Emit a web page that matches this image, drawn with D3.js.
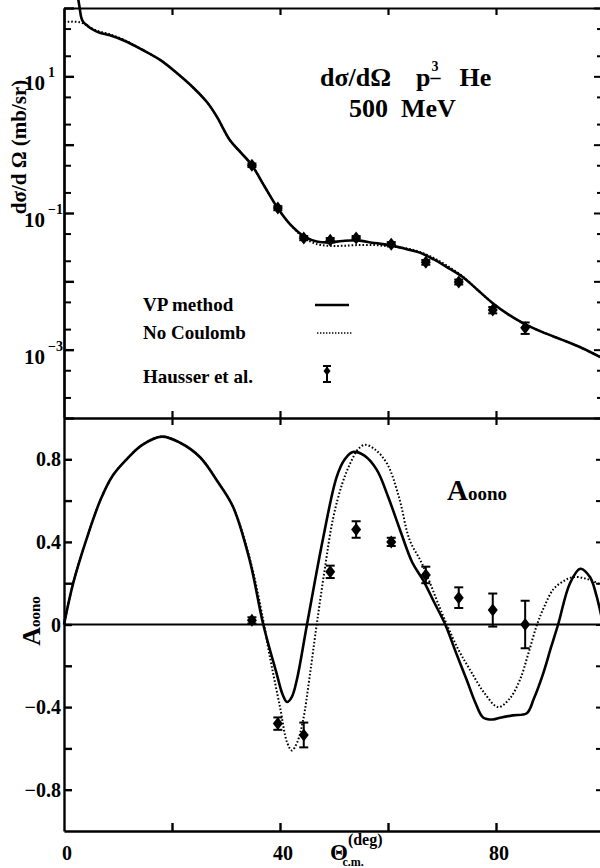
<!DOCTYPE html>
<html>
<head>
<meta charset="utf-8">
<script src="https://cdn.jsdelivr.net/npm/d3@7"></script>
<style>
  body { margin: 0; background: #fff; }
  svg { display: block; }
  text { font-family: "Liberation Serif", "Times New Roman", serif; font-weight: bold; fill: #000; }
</style>
</head>
<body>
<svg id="chart" width="600" height="868"></svg>
<script>
// Cross section, VP method (theta deg, mb/sr)
const csVpTheta = [2.6, 2.9, 3.2, 3.6, 4.2, 5.0, 6.5, 8.5, 11.5, 14.5, 17.8, 21, 24, 26.5, 28.3, 30.7, 32.8, 34.8, 37.2, 39.6, 41.8, 44.6, 47, 49.3, 51.5, 54.3, 57.5, 60.4, 63.5, 65.9, 68.5, 70.9, 73.9, 76.5, 79.4, 82.2, 85, 88.5, 92.4, 96, 99.6];
const csVpValue = [141, 100, 72.4, 61.7, 56.2, 50.1, 43.7, 39.8, 32.4, 24.5, 17.4, 11.0, 6.76, 4.17, 2.57, 1.17, 0.759, 0.501, 0.240, 0.117, 0.0692, 0.0447, 0.0380, 0.0372, 0.0389, 0.0398, 0.0363, 0.0339, 0.0295, 0.0263, 0.0209, 0.0162, 0.0115, 0.00759, 0.00479, 0.00331, 0.00245, 0.00182, 0.00138, 0.00105, 0.000759];

// Cross section, no Coulomb
const csNcTheta = [0, 1, 2, 3, 3.7, 4.5, 6, 8.5, 11.5, 14.5, 17.8, 21, 24, 26.5, 28.3, 30.7, 32.8, 34.8, 37.2, 39.6, 41.8, 44.6, 47, 49.3, 51.5, 54.3, 57.5, 60.4, 63.5, 65.9, 68.5, 70.9, 73.9, 76.5, 79.4, 82.2, 85, 88.5, 92.4, 96, 99.6];
const csNcValue = [63.1, 63.1, 63.1, 61.7, 58.9, 53.7, 46.8, 41.2, 33.1, 24.5, 17.4, 11.0, 6.76, 4.17, 2.57, 1.17, 0.759, 0.501, 0.240, 0.117, 0.0692, 0.0427, 0.0347, 0.0331, 0.0331, 0.0339, 0.0339, 0.0324, 0.0302, 0.0269, 0.0219, 0.0170, 0.0117, 0.00759, 0.00479, 0.00331, 0.00245, 0.00182, 0.00138, 0.00105, 0.000759];

// Hausser et al. data
const dataTheta = [34.8, 39.6, 44.4, 49.3, 54.1, 60.6, 67.0, 73.1, 79.4, 85.4];
const csData = [0.50, 0.118, 0.043, 0.040, 0.043, 0.035, 0.019, 0.0098, 0.0038, 0.0021];
const csErr = [0.03, 0.008, 0.003, 0.003, 0.003, 0.0025, 0.0015, 0.0008, 0.0004, 0.0004];
const aData = [0.02, -0.48, -0.535, 0.255, 0.46, 0.40, 0.24, 0.13, 0.07, 0.0];
const aErr = [0.015, 0.03, 0.06, 0.03, 0.04, 0.02, 0.04, 0.05, 0.08, 0.115];

// Aoono, VP method
const aVpTheta = [0, 1.7, 4, 6.7, 9, 11.6, 14.5, 18.1, 21.5, 25.2, 28.5, 31.3, 34.4, 36.9, 39.4, 40.5, 41.3, 42.2, 43.1, 45, 48, 50.5, 52, 53.5, 55.5, 57.9, 60, 62.2, 64.5, 66.5, 68.5, 70.6, 72.5, 74.6, 76.2, 77.6, 79.4, 81, 83.1, 85.7, 87, 88.7, 90.2, 91.5, 93.7, 95.6, 97.4, 98.5, 99.6];
const aVpValue = [0, 0.20, 0.40, 0.60, 0.72, 0.80, 0.87, 0.91, 0.88, 0.81, 0.69, 0.57, 0.31, 0.0, -0.24, -0.34, -0.375, -0.35, -0.27, 0.0, 0.42, 0.715, 0.80, 0.835, 0.82, 0.75, 0.62, 0.46, 0.30, 0.215, 0.11, 0.0, -0.13, -0.27, -0.38, -0.45, -0.46, -0.45, -0.44, -0.43, -0.36, -0.24, -0.11, 0.0, 0.20, 0.27, 0.23, 0.15, 0.03];

// Aoono, no Coulomb
const aNcTheta = [0, 1.7, 4, 6.7, 9, 11.6, 14.5, 18.1, 21.5, 25.2, 28.5, 31.3, 34.4, 36.9, 38, 40, 41.3, 42.2, 43.2, 44.3, 45.5, 46.8, 48.3, 49.8, 51.5, 53, 54.5, 55.7, 57.5, 59.8, 62, 64, 66.2, 67.8, 69.3, 70.9, 73, 75.2, 77.8, 80.4, 82.5, 84.4, 86, 87.6, 89, 90.6, 92.5, 94.3, 96.9, 99.6];
const aNcValue = [0, 0.20, 0.40, 0.60, 0.72, 0.80, 0.87, 0.91, 0.88, 0.81, 0.69, 0.57, 0.32, 0.02, -0.14, -0.40, -0.57, -0.61, -0.57, -0.46, -0.25, 0.0, 0.27, 0.51, 0.68, 0.78, 0.85, 0.87, 0.85, 0.78, 0.62, 0.41, 0.30, 0.20, 0.10, 0.0, -0.12, -0.22, -0.33, -0.40, -0.36, -0.27, -0.14, 0.0, 0.09, 0.17, 0.21, 0.23, 0.22, 0.19];

const xTicks = [20, 40, 60, 80];
const xLabels = [0, 40, 80];
const decades = [1e-4, 1e-3, 1e-2, 1e-1, 1, 10, 100];
const labelledDecades = [1, -1, -3];
const aTicks = [-0.8, -0.6, -0.4, -0.2, 0, 0.2, 0.4, 0.6, 0.8];
const aLabels = [0.8, 0.4, 0, -0.4, -0.8];

const svg = d3.select('#chart');

const x = d3.scaleLinear().domain([0, 100]).range([64, 604]);
const yTop = d3.scaleLog().domain([1e-4, 1e2]).range([418, 8]);
const yBot = d3.scaleLinear().domain([-1, 1]).range([831, 418]);

const minorTop = yTop.ticks().filter(v => {
  const m = Math.round(v / Math.pow(10, Math.floor(Math.log10(v) + 1e-9)));
  return m === 2 || m === 5;
});

function styleAxis(g, w) {
  g.selectAll('path, line').attr('stroke', '#000').attr('stroke-width', w);
  g.selectAll('text').remove();
}

// frame and ticks, top panel
svg.append('g').attr('transform', 'translate(64,0)')
  .call(d3.axisLeft(yTop).tickValues(decades).tickSize(-10).tickSizeOuter(0))
  .call(g => styleAxis(g, 2.4));
svg.append('g').attr('transform', 'translate(64,0)')
  .call(d3.axisLeft(yTop).tickValues(minorTop).tickSize(-7).tickSizeOuter(0))
  .call(g => styleAxis(g, 2));
svg.append('g').attr('transform', 'translate(604,0)')
  .call(d3.axisRight(yTop).tickValues(decades).tickSize(-10).tickSizeOuter(0))
  .call(g => styleAxis(g, 2));
svg.append('g').attr('transform', 'translate(604,0)')
  .call(d3.axisRight(yTop).tickValues(minorTop).tickSize(-7).tickSizeOuter(0))
  .call(g => styleAxis(g, 2));
svg.append('g').attr('transform', 'translate(0,8)')
  .call(d3.axisTop(x).tickValues(xTicks).tickSize(-7).tickSizeOuter(0))
  .call(g => styleAxis(g, 2.2));

// frame and ticks, bottom panel
svg.append('g').attr('transform', 'translate(64,0)')
  .call(d3.axisLeft(yBot).tickValues(aTicks).tickSize(-8).tickSizeOuter(0))
  .call(g => styleAxis(g, 2.4));
svg.append('g').attr('transform', 'translate(604,0)')
  .call(d3.axisRight(yBot).tickValues(aTicks).tickSize(-8).tickSizeOuter(0))
  .call(g => styleAxis(g, 2));
svg.append('g').attr('transform', 'translate(0,418)')
  .call(d3.axisBottom(x).tickValues(xTicks).tickSize(7).tickSizeOuter(0))
  .call(g => styleAxis(g, 2.2));
svg.append('g').attr('transform', 'translate(0,418)')
  .call(d3.axisTop(x).tickValues(xTicks).tickSize(7).tickSizeOuter(0))
  .call(g => styleAxis(g, 2.2));
svg.append('g').attr('transform', 'translate(0,831)')
  .call(d3.axisBottom(x).tickValues(xTicks).tickSize(-8).tickSizeOuter(0))
  .call(g => styleAxis(g, 2.4));

svg.append('line')
  .attr('x1', x(0)).attr('x2', x(100))
  .attr('y1', yBot(0)).attr('y2', yBot(0))
  .attr('stroke', '#000').attr('stroke-width', 1.8);

// tick labels
labelledDecades.forEach(e => {
  const ty = yTop(Math.pow(10, e));
  const t = svg.append('text').attr('x', 24).attr('y', ty + 14).attr('font-size', 21);
  t.append('tspan').text('10');
  t.append('tspan').attr('font-size', 14).attr('dx', 3).attr('dy', -13)
    .text(e < 0 ? '\u2212' + (-e) : String(e));
});

svg.append('g').attr('font-size', 20).selectAll('text')
  .data(aLabels).join('text')
  .attr('x', 61).attr('y', d => yBot(d) + 7)
  .attr('text-anchor', 'end')
  .text(d => d === 0 ? '0' : d3.format('.1f')(d).replace('-', '\u2212'));

svg.append('g').attr('font-size', 20).selectAll('text')
  .data(xLabels).join('text')
  .attr('x', d => x(d) + 3).attr('y', 860)
  .attr('text-anchor', 'middle')
  .text(d => d);

// axis titles
svg.append('text').attr('transform', 'translate(26,147) rotate(-90)')
  .attr('text-anchor', 'middle').attr('font-size', 21)
  .text('d\u03c3/d \u03a9 (mb/sr)');

const aTitle = svg.append('text').attr('transform', 'translate(40,621) rotate(-90)')
  .attr('text-anchor', 'middle');
aTitle.append('tspan').attr('font-size', 26).text('A');
aTitle.append('tspan').attr('font-size', 15).text('oono');

const thTitle = svg.append('text').attr('x', 330).attr('y', 860);
thTitle.append('tspan').attr('font-size', 23).text('\u0398');
thTitle.append('tspan').attr('font-size', 16).attr('dy', -15).text('(deg)');
thTitle.append('tspan').attr('font-size', 12).attr('dx', -40).attr('dy', 21).text('c.m.');

// panel annotations
svg.append('text').attr('x', 320).attr('y', 86).attr('font-size', 26).text('d\u03c3/d\u03a9');
const reac = svg.append('text').attr('x', 416).attr('y', 86).attr('font-size', 26);
reac.append('tspan').text('p');
reac.append('tspan').attr('font-size', 20).attr('dy', -2).text('\u2013');
reac.append('tspan').attr('font-size', 14).attr('dx', -9).attr('dy', -13).text('3');
reac.append('tspan').attr('dx', 21).attr('dy', 15).text('He');
svg.append('text').attr('x', 349).attr('y', 117).attr('font-size', 26).text('500\u00a0\u00a0MeV');

const aLab = svg.append('text').attr('x', 447).attr('y', 500);
aLab.append('tspan').attr('font-size', 29).text('A');
aLab.append('tspan').attr('font-size', 19).text('oono');

// curves
const lineTop = d3.line().x(d => x(d[0])).y(d => yTop(d[1])).curve(d3.curveCatmullRom.alpha(0.5));
const lineBot = d3.line().x(d => x(d[0])).y(d => yBot(d[1])).curve(d3.curveCatmullRom.alpha(0.5));

function drawCurve(fn, xs, ys, dotted) {
  svg.append('path')
    .attr('d', fn(d3.zip(xs, ys)))
    .attr('fill', 'none').attr('stroke', '#000')
    .attr('stroke-width', dotted ? 2 : 2.6)
    .attr('stroke-dasharray', dotted ? '1.6,2' : null)
    .attr('stroke-linejoin', 'round');
}
drawCurve(lineTop, csNcTheta, csNcValue, true);
drawCurve(lineTop, csVpTheta, csVpValue, false);
drawCurve(lineBot, aNcTheta, aNcValue, true);
drawCurve(lineBot, aVpTheta, aVpValue, false);

// data markers
const diamondType = {
  draw(ctx) {
    ctx.moveTo(0, -6.5); ctx.lineTo(5, 0); ctx.lineTo(0, 6.5); ctx.lineTo(-5, 0); ctx.closePath();
  }
};
const diamond = d3.symbol().type(diamondType);

function drawPoints(yScale, vals, errs) {
  const g = svg.append('g');
  dataTheta.forEach((t, i) => {
    const cx = x(t);
    const y0 = yScale(vals[i] - errs[i]);
    const y1 = yScale(vals[i] + errs[i]);
    g.append('line').attr('x1', cx).attr('x2', cx).attr('y1', y0).attr('y2', y1)
      .attr('stroke', '#000').attr('stroke-width', 2);
    [y0, y1].forEach(yy => g.append('line')
      .attr('x1', cx - 4.5).attr('x2', cx + 4.5).attr('y1', yy).attr('y2', yy)
      .attr('stroke', '#000').attr('stroke-width', 2));
    g.append('path').attr('d', diamond())
      .attr('transform', `translate(${cx},${yScale(vals[i])})`)
      .attr('fill', '#000');
  });
}
drawPoints(yTop, csData, csErr);
drawPoints(yBot, aData, aErr);

// legend
const leg = svg.append('g').attr('font-size', 19);
leg.append('text').attr('x', 143).attr('y', 311).text('VP method');
leg.append('text').attr('x', 143).attr('y', 339).text('No Coulomb');
leg.append('text').attr('x', 143).attr('y', 383).text('Hausser et al.');
leg.append('line').attr('x1', 315).attr('x2', 349).attr('y1', 305).attr('y2', 305)
  .attr('stroke', '#000').attr('stroke-width', 2.4);
leg.append('line').attr('x1', 317).attr('x2', 353).attr('y1', 333).attr('y2', 333)
  .attr('stroke', '#000').attr('stroke-width', 1.6).attr('stroke-dasharray', '1.4,1.6');
leg.append('line').attr('x1', 327).attr('x2', 327).attr('y1', 366).attr('y2', 382)
  .attr('stroke', '#000').attr('stroke-width', 2);
[366, 382].forEach(yy => leg.append('line')
  .attr('x1', 323).attr('x2', 331).attr('y1', yy).attr('y2', yy)
  .attr('stroke', '#000').attr('stroke-width', 2));
leg.append('path').attr('d', diamond()).attr('transform', 'translate(327,371) scale(0.7)').attr('fill', '#000');
</script>
</body>
</html>
